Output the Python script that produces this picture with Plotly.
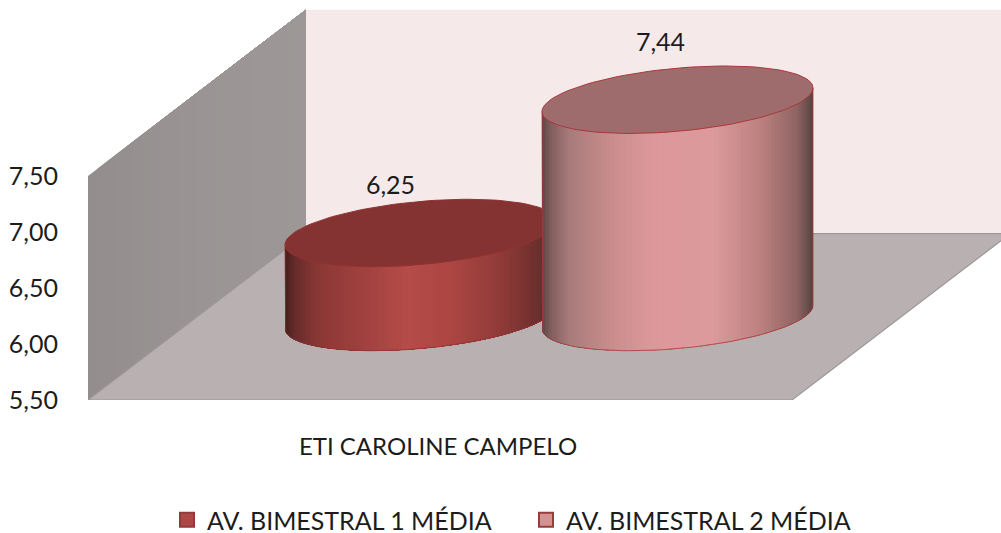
import numpy as np
import plotly.graph_objects as go

# ---- data ----
categories = ["ETI CAROLINE CAMPELO"]
series_names = ["AV. BIMESTRAL 1 MÉDIA", "AV. BIMESTRAL 2 MÉDIA"]
series_values = [6.25, 7.44]
y_ticks = [5.5, 6.0, 6.5, 7.0, 7.5]

# ---- 3D projection helpers (x axis in screen-like units, y axis in value units) ----
Y_MIN, Y_MAX = 5.5, 7.5
PX_PER_UNIT = 112.0
LEFT, RIGHT = 88.0, 1001.0
FRONT_RIGHT = 792.0
DEPTH_X = 218.0
DEPTH_Y = 1.485
BASE_LIFT = 0.741
A, B, TILT = 135.5, 31.6 / PX_PER_UNIT, 11.8 / PX_PER_UNIT
CENTERS = [420.5, 677.5]
FONT = "Lato, Carlito, Calibri, sans-serif"
TEXT = "#1c1c1c"

def hex2rgb(h):
    return np.array([int(h[i:i + 2], 16) for i in (1, 3, 5)], float)

def ramp(stops, s):
    pos = [p for p, _ in stops]
    rgb = np.array([hex2rgb(c) for _, c in stops])
    vals = [np.interp(s, pos, rgb[:, k]) for k in range(3)]
    return "rgb({:.0f},{:.0f},{:.0f})".format(*vals)

SIDE = [
    [(0, "#45201f"), (0.035, "#652c2a"), (0.12, "#8a3835"), (0.27, "#9e403e"),
     (0.45, "#b44c49"), (0.62, "#ac4643"), (0.8, "#8f3a38"), (1, "#5a2a28")],
    [(0, "#5e4646"), (0.03, "#7f5d5c"), (0.1, "#a87b7b"), (0.25, "#c98c8c"),
     (0.4, "#dc9799"), (0.63, "#dc9a9c"), (0.8, "#bd8280"), (0.94, "#8f6564"), (1, "#594242")],
]
TOP = ["#843332", "#9e6c6d"]
EDGE = ["#8f3330", "#a9383a"]
LEGEND_FILL = ["#ad4846", "#d39393"]
LEGEND_LINE = ["#94393a", "#9a3c3c"]

def poly(x, y, color, line=None, width=0.0):
    return go.Scatter(x=list(x), y=list(y), mode="lines", fill="toself", fillcolor=color,
                      line=dict(color=line or color, width=width), showlegend=False,
                      hoverinfo="skip", cliponaxis=False)

fig = go.Figure()

# walls and floor (each strip runs to the far edge, so later strips overlap with no seam)
back_y0, back_y1 = Y_MIN + DEPTH_Y, Y_MAX + DEPTH_Y
fig.add_trace(poly([LEFT + DEPTH_X, RIGHT + 20, RIGHT + 20, LEFT + DEPTH_X],
                   [back_y0, back_y0, back_y1, back_y1], "#f5e9ea"))
n = 24
x1 = LEFT + DEPTH_X
for i in range(n):
    a = i / n
    x0 = LEFT + DEPTH_X * a
    fig.add_trace(poly([x0, x1, x1, x0],
                       [Y_MIN + DEPTH_Y * a, back_y0, back_y1, Y_MAX + DEPTH_Y * a],
                       ramp([(0, "#938e8d"), (0.5, "#9a9594"), (1, "#9d9897")], a)))
fig.add_trace(poly([LEFT, LEFT + DEPTH_X, RIGHT + 9.2, FRONT_RIGHT, LEFT],
                   [Y_MIN, back_y0, back_y0, Y_MIN, Y_MIN], "#b8b0b1", line="#9c9898", width=1.2))

# cylinders
for idx, v in enumerate(series_values):
    cx = CENTERS[idx]
    base = Y_MIN + BASE_LIFT
    top = v + BASE_LIFT
    ts = np.linspace(np.pi, 0, 91)  # left to right along the front
    for i in range(len(ts) - 1):
        tt = np.linspace(ts[i], 0, 80)
        cs, sn = np.cos(tt), np.sin(tt)
        xt, yt = cx + A * cs, top + TILT * cs - B * sn
        xb, yb = cx + A * cs, base + TILT * cs - B * sn
        s = (np.cos((ts[i] + ts[i + 1]) / 2) + 1) / 2
        fig.add_trace(poly(np.r_[xt, xb[::-1]], np.r_[yt, yb[::-1]], ramp(SIDE[idx], s)))
    tf = np.linspace(0, 2 * np.pi, 121)
    fig.add_trace(poly(cx + A * np.cos(tf), top + TILT * np.cos(tf) + B * np.sin(tf),
                       TOP[idx], line=EDGE[idx], width=1.0))
    # outline of visible sides
    ta = np.linspace(np.pi, 0, 61)
    fig.add_trace(go.Scatter(
        x=np.r_[cx - A, cx + A * np.cos(ta), cx + A],
        y=np.r_[top - TILT, base + TILT * np.cos(ta) - B * np.sin(ta), top + TILT],
        mode="lines", line=dict(color=EDGE[idx], width=0.8), showlegend=False,
        hoverinfo="skip", cliponaxis=False))

# data labels
LABEL_DX = [-30, -17]
LABEL_DY = [45 / PX_PER_UNIT, 55 / PX_PER_UNIT]
fig.add_trace(go.Scatter(
    x=[CENTERS[i] + LABEL_DX[i] for i in range(2)],
    y=[series_values[i] + BASE_LIFT + LABEL_DY[i] for i in range(2)],
    text=[f"{v:.2f}".replace(".", ",") for v in series_values],
    mode="text", textposition="middle center",
    textfont=dict(family=FONT, size=25, color=TEXT),
    showlegend=False, hoverinfo="skip", cliponaxis=False))

# legend entries
for i, name in enumerate(series_names):
    fig.add_trace(go.Scatter(
        x=[None], y=[None], mode="markers", name=name,
        marker=dict(symbol="square", size=14, color=LEGEND_FILL[i],
                    line=dict(color=LEGEND_LINE[i], width=2))))

PLOT_H = 400.0
fig.update_layout(
    width=1001, height=533,
    margin=dict(l=88, r=0, t=0, b=133, autoexpand=False),
    paper_bgcolor="white", plot_bgcolor="white",
    separators=", ",
    font=dict(family=FONT, size=25, color=TEXT),
    xaxis=dict(range=[LEFT, RIGHT], tickmode="array", tickvals=[438], ticktext=categories,
               ticks="outside", ticklen=25, tickcolor="rgba(0,0,0,0)", showgrid=False,
               zeroline=False, showline=False, tickfont=dict(family=FONT, size=24, color=TEXT)),
    yaxis=dict(range=[Y_MIN, Y_MIN + PLOT_H / PX_PER_UNIT], tickmode="array", tickvals=y_ticks,
               tickformat=".2f", ticks="outside", ticklen=24, tickcolor="rgba(0,0,0,0)",
               showgrid=False, zeroline=False, showline=False,
               tickfont=dict(family=FONT, size=25, color=TEXT)),
    legend=dict(orientation="h", x=(167 - LEFT) / (RIGHT - LEFT), y=(PLOT_H - 497) / PLOT_H,
                xanchor="left", yanchor="top", entrywidth=314, entrywidthmode="pixels",
                font=dict(family=FONT, size=25, color=TEXT), bgcolor="rgba(0,0,0,0)"),
    showlegend=True,
)

fig.write_html("out.html", config={"displayModeBar": False},
               post_script="document.body.style.margin='0';")
